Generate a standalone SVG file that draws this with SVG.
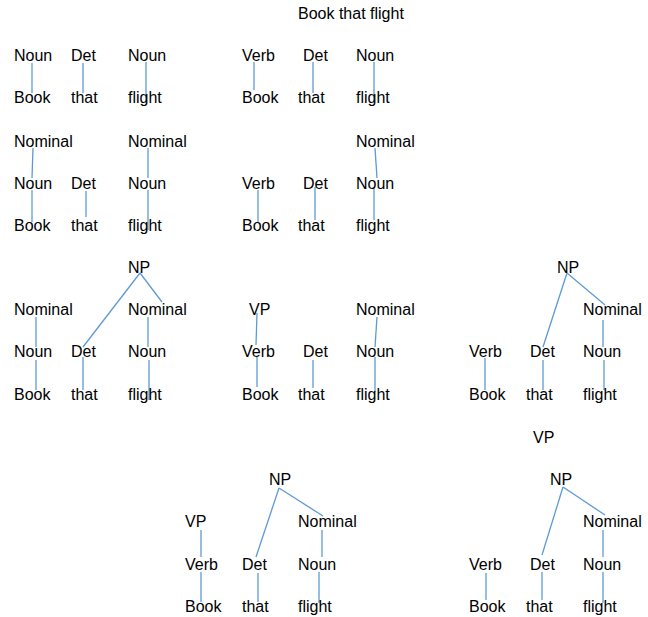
<svg xmlns="http://www.w3.org/2000/svg" width="648" height="617" viewBox="0 0 648 617">
  <style>
    text { font-family: "Liberation Sans", Arial, sans-serif; font-size: 16px; fill: #000; }
    .edge { stroke: #5b9bd5; stroke-width: 1.3; fill: none; }
  </style>
  <rect width="648" height="617" fill="#fff"/>

  <g id="title"><text x="298" y="19">Book that flight</text></g>

  <!-- connectors -->
  <g id="connectors" class="edge">
    <!-- tree 1 -->
    <line x1="32" y1="63" x2="32" y2="93"/>
    <line x1="83" y1="63" x2="83" y2="93"/>
    <line x1="146" y1="62" x2="146" y2="103"/>
    <!-- tree 2 -->
    <line x1="254" y1="62" x2="254" y2="90"/>
    <line x1="313" y1="62" x2="313" y2="93"/>
    <line x1="374" y1="62" x2="374" y2="103"/>
    <!-- tree 3 -->
    <line x1="33" y1="148" x2="32" y2="178"/>
    <line x1="32" y1="190" x2="32" y2="222"/>
    <line x1="86" y1="191" x2="86" y2="217"/>
    <line x1="148" y1="148" x2="148" y2="178"/>
    <line x1="148" y1="190" x2="148" y2="230"/>
    <!-- tree 4 -->
    <line x1="375" y1="148" x2="377" y2="178"/>
    <line x1="258" y1="190" x2="258" y2="222"/>
    <line x1="315" y1="187" x2="315" y2="220"/>
    <line x1="374" y1="188" x2="374" y2="220"/>
    <!-- tree 5 -->
    <line x1="140" y1="273" x2="83" y2="347"/>
    <line x1="140" y1="273" x2="162" y2="302"/>
    <line x1="36" y1="317" x2="36" y2="347"/>
    <line x1="36" y1="360" x2="36" y2="390"/>
    <line x1="83" y1="357" x2="83" y2="390"/>
    <line x1="148" y1="317" x2="148" y2="347"/>
    <line x1="149" y1="360" x2="149" y2="400"/>
    <!-- tree 6 -->
    <line x1="257" y1="313" x2="256" y2="345"/>
    <line x1="257" y1="357" x2="257" y2="387"/>
    <line x1="313" y1="360" x2="313" y2="388"/>
    <line x1="377" y1="317" x2="375" y2="347"/>
    <line x1="375" y1="357" x2="375" y2="392"/>
    <!-- tree 7 -->
    <line x1="567" y1="273" x2="543" y2="347"/>
    <line x1="567" y1="273" x2="605" y2="305"/>
    <line x1="603" y1="320" x2="603" y2="347"/>
    <line x1="485" y1="358" x2="485" y2="390"/>
    <line x1="543" y1="360" x2="543" y2="390"/>
    <line x1="604" y1="360" x2="604" y2="390"/>
    <!-- tree 8 -->
    <line x1="279" y1="488" x2="256" y2="557"/>
    <line x1="279" y1="488" x2="323" y2="516"/>
    <line x1="201" y1="530" x2="201" y2="557"/>
    <line x1="201" y1="572" x2="201" y2="602"/>
    <line x1="258" y1="573" x2="258" y2="602"/>
    <line x1="322" y1="530" x2="322" y2="557"/>
    <line x1="319" y1="572" x2="319" y2="603"/>
    <!-- tree 9 -->
    <line x1="563" y1="487" x2="542" y2="555"/>
    <line x1="563" y1="487" x2="605" y2="515"/>
    <line x1="603" y1="530" x2="603" y2="557"/>
    <line x1="486" y1="573" x2="486" y2="600"/>
    <line x1="542" y1="572" x2="542" y2="600"/>
    <line x1="603" y1="572" x2="603" y2="603"/>
  </g>

  <!-- tree 1 -->
  <g id="t1-noun1"><text x="14" y="61">Noun</text></g>
  <g id="t1-det"><text x="71" y="61">Det</text></g>
  <g id="t1-noun2"><text x="128" y="61">Noun</text></g>
  <g id="t1-book"><text x="14" y="103">Book</text></g>
  <g id="t1-that"><text x="71" y="103">that</text></g>
  <g id="t1-flight"><text x="128" y="103">flight</text></g>

  <!-- tree 2 -->
  <g id="t2-verb"><text x="242" y="61">Verb</text></g>
  <g id="t2-det"><text x="303" y="61">Det</text></g>
  <g id="t2-noun"><text x="356" y="61">Noun</text></g>
  <g id="t2-book"><text x="242" y="103">Book</text></g>
  <g id="t2-that"><text x="298" y="103">that</text></g>
  <g id="t2-flight"><text x="356" y="103">flight</text></g>

  <!-- tree 3 -->
  <g id="t3-nominal1"><text x="14" y="147">Nominal</text></g>
  <g id="t3-nominal2"><text x="128" y="147">Nominal</text></g>
  <g id="t3-noun1"><text x="14" y="189">Noun</text></g>
  <g id="t3-det"><text x="71" y="189">Det</text></g>
  <g id="t3-noun2"><text x="128" y="189">Noun</text></g>
  <g id="t3-book"><text x="14" y="231">Book</text></g>
  <g id="t3-that"><text x="71" y="231">that</text></g>
  <g id="t3-flight"><text x="128" y="231">flight</text></g>

  <!-- tree 4 -->
  <g id="t4-nominal"><text x="356" y="147">Nominal</text></g>
  <g id="t4-verb"><text x="242" y="189">Verb</text></g>
  <g id="t4-det"><text x="303" y="189">Det</text></g>
  <g id="t4-noun"><text x="356" y="189">Noun</text></g>
  <g id="t4-book"><text x="242" y="231">Book</text></g>
  <g id="t4-that"><text x="298" y="231">that</text></g>
  <g id="t4-flight"><text x="356" y="231">flight</text></g>

  <!-- tree 5 -->
  <g id="t5-np"><text x="128" y="273">NP</text></g>
  <g id="t5-nominal1"><text x="14" y="315">Nominal</text></g>
  <g id="t5-nominal2"><text x="128" y="315">Nominal</text></g>
  <g id="t5-noun1"><text x="14" y="357">Noun</text></g>
  <g id="t5-det"><text x="71" y="357">Det</text></g>
  <g id="t5-noun2"><text x="128" y="357">Noun</text></g>
  <g id="t5-book"><text x="14" y="400">Book</text></g>
  <g id="t5-that"><text x="71" y="400">that</text></g>
  <g id="t5-flight"><text x="128" y="400">flight</text></g>

  <!-- tree 6 -->
  <g id="t6-vp"><text x="249" y="315">VP</text></g>
  <g id="t6-nominal"><text x="356" y="315">Nominal</text></g>
  <g id="t6-verb"><text x="242" y="357">Verb</text></g>
  <g id="t6-det"><text x="303" y="357">Det</text></g>
  <g id="t6-noun"><text x="356" y="357">Noun</text></g>
  <g id="t6-book"><text x="242" y="400">Book</text></g>
  <g id="t6-that"><text x="298" y="400">that</text></g>
  <g id="t6-flight"><text x="356" y="400">flight</text></g>

  <!-- tree 7 -->
  <g id="t7-np"><text x="557" y="273">NP</text></g>
  <g id="t7-nominal"><text x="583" y="315">Nominal</text></g>
  <g id="t7-verb"><text x="469" y="357">Verb</text></g>
  <g id="t7-det"><text x="530" y="357">Det</text></g>
  <g id="t7-noun"><text x="583" y="357">Noun</text></g>
  <g id="t7-book"><text x="469" y="400">Book</text></g>
  <g id="t7-that"><text x="526" y="400">that</text></g>
  <g id="t7-flight"><text x="583" y="400">flight</text></g>

  <!-- tree 8 -->
  <g id="t8-np"><text x="269" y="485">NP</text></g>
  <g id="t8-vp"><text x="185" y="527">VP</text></g>
  <g id="t8-nominal"><text x="298" y="527">Nominal</text></g>
  <g id="t8-verb"><text x="185" y="570">Verb</text></g>
  <g id="t8-det"><text x="242" y="570">Det</text></g>
  <g id="t8-noun"><text x="298" y="570">Noun</text></g>
  <g id="t8-book"><text x="185" y="612">Book</text></g>
  <g id="t8-that"><text x="242" y="612">that</text></g>
  <g id="t8-flight"><text x="298" y="612">flight</text></g>

  <!-- tree 9 -->
  <g id="t9-vp"><text x="533" y="443">VP</text></g>
  <g id="t9-np"><text x="550" y="485">NP</text></g>
  <g id="t9-nominal"><text x="583" y="527">Nominal</text></g>
  <g id="t9-verb"><text x="469" y="570">Verb</text></g>
  <g id="t9-det"><text x="530" y="570">Det</text></g>
  <g id="t9-noun"><text x="583" y="570">Noun</text></g>
  <g id="t9-book"><text x="469" y="612">Book</text></g>
  <g id="t9-that"><text x="526" y="612">that</text></g>
  <g id="t9-flight"><text x="583" y="612">flight</text></g>
</svg>
